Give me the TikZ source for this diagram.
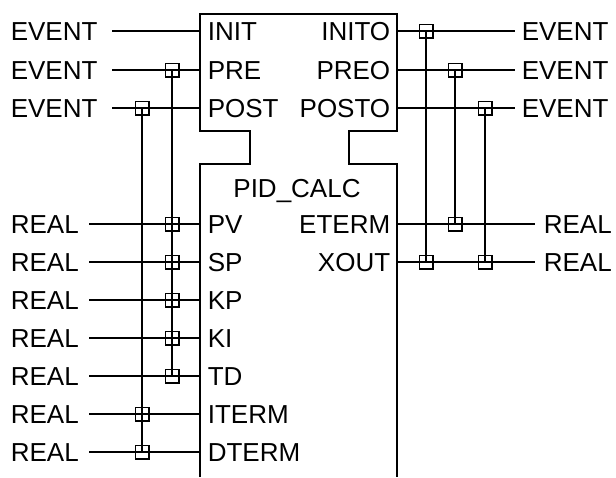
\documentclass[tikz,border=0pt]{standalone}
\usepackage{fontspec}
\setmainfont{Liberation Sans}
\begin{document}
\begin{tikzpicture}[x=1pt,y=-1pt,line width=1.6pt,
  lbl/.style={font=\fontsize{26}{30}\selectfont,inner sep=0pt,anchor=base west},
  rlbl/.style={lbl,anchor=base east},
  clbl/.style={lbl,anchor=base},
  junc/.style={draw,minimum size=13.5pt,inner sep=0pt,line width=1.5pt},
  wire/.style={line width=1.6pt}]
\useasboundingbox (0,0) rectangle (616,477);
% block outline
\draw[wire] (200,477) -- (200,164) -- (250,164) -- (250,131) -- (200,131) -- (200,14)
  -- (397,14) -- (397,131) -- (349,131) -- (349,164) -- (397,164) -- (397,477);
\node[clbl] (title) at (297,197) {PID\_CALC};
% left inputs
\foreach \n/\y/\t/\s in {INIT/31/EVENT/112, PRE/70/EVENT/112, POST/108/EVENT/112,
  PV/224/REAL/89, SP/262/REAL/89, KP/300/REAL/89, KI/338/REAL/89, TD/376/REAL/89,
  ITERM/414/REAL/89, DTERM/452/REAL/89}{
  \node[lbl] (t\n) at (10,\y+9) {\t};
  \coordinate (s\n) at (\s,\y);
  \coordinate (p\n) at (200,\y);
  \draw[wire] (s\n) -- (p\n);
  \node[lbl] (l\n) at (207,\y+9) {\n};
}
% right outputs
\foreach \n/\y/\t/\e/\x in {INITO/31/EVENT/515/521, PREO/70/EVENT/515/521, POSTO/108/EVENT/515/521,
  ETERM/224/REAL/535/543, XOUT/262/REAL/535/543}{
  \node[lbl] (t\n) at (\x,\y+9) {\t};
  \coordinate (p\n) at (397,\y);
  \coordinate (e\n) at (\e,\y);
  \draw[wire] (p\n) -- (e\n);
  \node[rlbl] (l\n) at (391,\y+9) {\n};
}
% left associations
\coordinate (aPRE) at (172,70);   \coordinate (aTD) at (172,376);
\coordinate (aPOST) at (142,108); \coordinate (aDTERM) at (142,452);
\draw[wire] (aPRE) -- (aTD);
\draw[wire] (aPOST) -- (aDTERM);
% right associations
\coordinate (aINITO) at (426,31); \coordinate (aXOUT1) at (426,262);
\coordinate (aPREO) at (455,70);  \coordinate (aETERM) at (455,224);
\coordinate (aPOSTO) at (485,108); \coordinate (aXOUT2) at (485,262);
\draw[wire] (aINITO) -- (aXOUT1);
\draw[wire] (aPREO) -- (aETERM);
\draw[wire] (aPOSTO) -- (aXOUT2);
% junction boxes
\foreach \jx/\jy [count=\k] in {172/70,142/108,172/224,172/262,172/300,172/338,172/376,142/414,142/452,
  426/31,455/70,485/108,455/224,426/262,485/262}{
  \node[junc] (j\k) at (\jx,\jy) {};
}
\end{tikzpicture}
\end{document}
